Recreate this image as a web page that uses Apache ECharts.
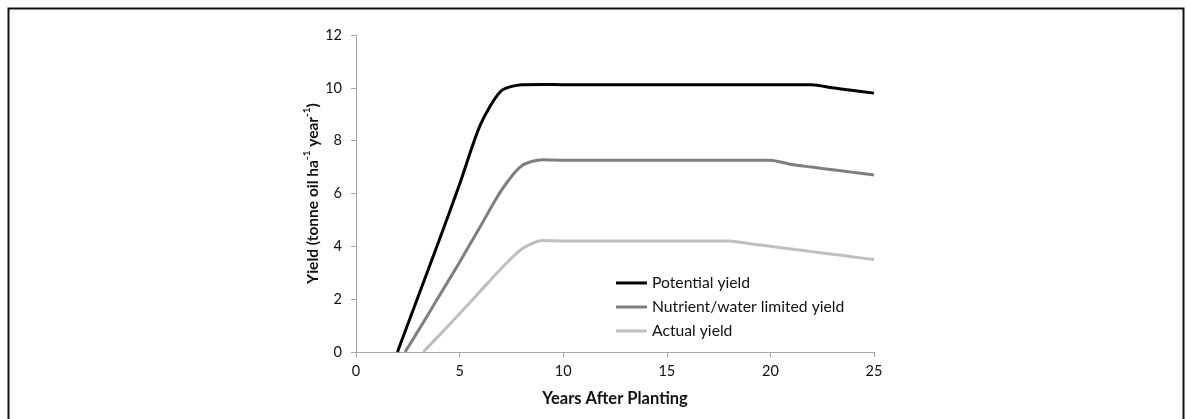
<!DOCTYPE html>
<html>
<head>
<meta charset="utf-8">
<script src="https://cdn.jsdelivr.net/npm/echarts@6/dist/echarts.min.js"></script>
<style>
html,body{margin:0;padding:0;background:#fff;}
#chart{width:1186px;height:419px;}
</style>
</head>
<body>
<div id="chart"></div>
<script>
// ---- data ----
var seriesNames = ['Potential yield', 'Nutrient/water limited yield', 'Actual yield'];

var potentialYears  = [2, 3, 4, 5, 6, 7, 8, 9, 10, 11, 12, 13, 14, 15, 16, 17, 18, 19, 20, 21, 22, 23, 24, 25];
var potentialValues = [0, 2.1, 4.2, 6.35, 8.6, 9.88, 10.12, 10.13, 10.12, 10.12, 10.12, 10.12, 10.12, 10.12, 10.12, 10.12, 10.12, 10.12, 10.12, 10.12, 10.12, 10.0, 9.9, 9.8];

var limitedYears  = [2.37, 3, 4, 5, 6, 7, 8, 9, 10, 11, 12, 13, 14, 15, 16, 17, 18, 19, 20, 21, 22, 23, 24, 25];
var limitedValues = [0, 0.8, 2.1, 3.4, 4.75, 6.1, 7.05, 7.28, 7.26, 7.26, 7.26, 7.26, 7.26, 7.26, 7.26, 7.26, 7.26, 7.26, 7.26, 7.1, 7.0, 6.9, 6.8, 6.7];

var actualYears  = [3.25, 4, 5, 6, 7, 8, 9, 10, 11, 12, 13, 14, 15, 16, 17, 18, 19, 20, 21, 22, 23, 24, 25];
var actualValues = [0, 0.62, 1.45, 2.3, 3.15, 3.9, 4.22, 4.2, 4.2, 4.2, 4.2, 4.2, 4.2, 4.2, 4.2, 4.2, 4.1, 4.0, 3.9, 3.8, 3.7, 3.6, 3.5];

var xTicks = [0, 5, 10, 15, 20, 25];
var yTicks = [0, 2, 4, 6, 8, 10, 12];

function pairs(xs, ys) {
  return xs.map(function (x, i) { return [x, ys[i]]; });
}

var colors = ['#000000', '#7f7f7f', '#bfbfbf'];
var FONT = 'Lato, "Open Sans", sans-serif';
var TXT = '#111111';

var chart = echarts.init(document.getElementById('chart'), null, {renderer: 'canvas'});

var option = {
  backgroundColor: '#ffffff',
  animation: false,
  textStyle: {fontFamily: FONT},
  grid: {left: 356, right: 312, top: 35, bottom: 67, containLabel: false},
  legend: {
    orient: 'vertical',
    left: 616,
    top: 274,
    padding: 0,
    itemWidth: 31,
    itemHeight: 3,
    itemGap: 6,
    icon: 'rect',
    data: seriesNames,
    textStyle: {fontFamily: FONT, fontSize: 15.7, color: TXT, lineHeight: 18}
  },
  xAxis: {
    type: 'value',
    min: xTicks[0],
    max: xTicks[xTicks.length - 1],
    interval: 5,
    name: 'Years After Planting',
    nameLocation: 'middle',
    nameGap: 38,
    nameTextStyle: {fontFamily: FONT, fontSize: 16.5, fontWeight: 'bold', color: TXT},
    axisLine: {show: true, lineStyle: {color: '#a6a6a6', width: 1}},
    axisTick: {show: true, length: 5, lineStyle: {color: '#a6a6a6'}},
    axisLabel: {fontFamily: FONT, fontSize: 14.5, color: TXT, margin: 12},
    splitLine: {show: false}
  },
  yAxis: {
    type: 'value',
    min: yTicks[0],
    max: yTicks[yTicks.length - 1],
    interval: 2,
    name: '{a|Yield (tonne oil ha}{s|-1}{a| year}{s|-1}{a|)}',
    nameLocation: 'middle',
    nameGap: 30,
    nameTextStyle: {
      fontFamily: FONT, fontSize: 15.5, fontWeight: 'bold', color: TXT,
      rich: {
        a: {fontFamily: FONT, fontSize: 15.5, fontWeight: 'bold', color: TXT, lineHeight: 19, verticalAlign: 'bottom'},
        s: {fontFamily: FONT, fontSize: 10, fontWeight: 'bold', color: TXT, lineHeight: 19, verticalAlign: 'top'}
      }
    },
    axisLine: {show: true, lineStyle: {color: '#a6a6a6', width: 1}},
    axisTick: {show: true, length: 5, lineStyle: {color: '#a6a6a6'}},
    axisLabel: {fontFamily: FONT, fontSize: 14.5, color: TXT, margin: 14},
    splitLine: {show: false}
  },
  series: [
    {name: seriesNames[0], type: 'line', data: pairs(potentialYears, potentialValues), showSymbol: false, smooth: 0.25, lineStyle: {color: colors[0], width: 3}, itemStyle: {color: colors[0]}, z: 3},
    {name: seriesNames[1], type: 'line', data: pairs(limitedYears, limitedValues), showSymbol: false, smooth: 0.25, lineStyle: {color: colors[1], width: 3}, itemStyle: {color: colors[1]}, z: 2},
    {name: seriesNames[2], type: 'line', data: pairs(actualYears, actualValues), showSymbol: false, smooth: 0.25, lineStyle: {color: colors[2], width: 3}, itemStyle: {color: colors[2]}, z: 1}
  ],
  graphic: [
    {type: 'polyline', silent: true, shape: {points: [[8.5, 430], [8.5, 8.5], [1183.5, 8.5], [1183.5, 430]]}, style: {stroke: '#111', lineWidth: 2, fill: null}}
  ]
};
chart.setOption(option);
</script>
</body>
</html>
